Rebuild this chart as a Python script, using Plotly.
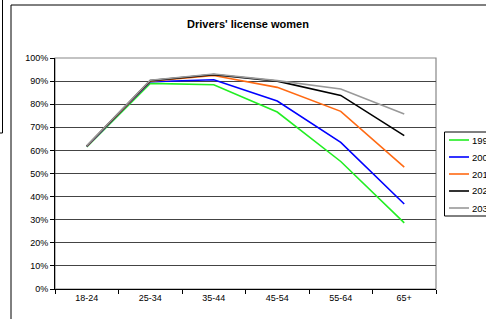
import plotly.graph_objects as go

categories = ["18-24", "25-34", "35-44", "45-54", "55-64", "65+"]
series_names = ["1990", "2000", "2010", "2020", "2030"]
v1990 = [0.615, 0.890, 0.884, 0.766, 0.552, 0.286]
v2000 = [0.617, 0.897, 0.906, 0.814, 0.635, 0.368]
v2010 = [0.618, 0.900, 0.924, 0.873, 0.769, 0.528]
v2020 = [0.619, 0.902, 0.928, 0.900, 0.838, 0.664]
v2030 = [0.620, 0.904, 0.931, 0.902, 0.866, 0.758]
colors = ["#22ee22", "#0000ff", "#ff6a13", "#000000", "#999999"]

fig = go.Figure()
for name, vals, col in zip(series_names, [v1990, v2000, v2010, v2020, v2030], colors):
    fig.add_trace(go.Scatter(x=categories, y=vals, name=name, mode="lines",
                             line=dict(color=col, width=1.6), showlegend=False))

W, H = 486, 319
L, R, T, B = 55, 50, 58, 30
pw, ph = W - L - R, H - T - B

def px(x):
    return (x - L) / pw

def py(y):
    return (H - B - y) / ph

font = "Liberation Sans, Arial, sans-serif"

shapes = [
    # outer chart frame
    dict(type="rect", xref="paper", yref="paper", x0=px(11), x1=px(520), y0=py(5), y1=py(340),
         line=dict(color="#000000", width=1), fillcolor="rgba(0,0,0,0)", layer="below"),
    # plot area border
    dict(type="rect", xref="paper", yref="paper", x0=0, x1=1, y0=0, y1=1,
         line=dict(color="#888888", width=1.2), fillcolor="rgba(0,0,0,0)", layer="below"),
    # partial neighbouring frame at left
    dict(type="line", xref="paper", yref="paper", x0=px(2.5), x1=px(2.5), y0=py(133), y1=py(-2),
         line=dict(color="#000000", width=1)),
    dict(type="line", xref="paper", yref="paper", x0=px(-3), x1=px(2.5), y0=py(133), y1=py(133),
         line=dict(color="#000000", width=1)),
    # legend box
    dict(type="rect", xref="paper", yref="paper", x0=px(444.5), x1=px(520), y0=py(132), y1=py(216),
         line=dict(color="#000000", width=1), fillcolor="white", layer="below"),
]
annotations = []
for i, (name, col) in enumerate(zip(series_names, colors)):
    yy = 140 + i * 17
    shapes.append(dict(type="line", xref="paper", yref="paper", x0=px(449), x1=px(469),
                       y0=py(yy), y1=py(yy), line=dict(color=col, width=1.6)))
    annotations.append(dict(text=name, xref="paper", yref="paper", x=px(469.5), y=py(yy),
                            xanchor="left", yanchor="middle", showarrow=False,
                            font=dict(family=font, size=9.5, color="#000000")))

fig.update_layout(
    width=W, height=H,
    margin=dict(l=L, r=R, t=T, b=B, autoexpand=False),
    paper_bgcolor="white", plot_bgcolor="white",
    font=dict(family=font, size=9, color="#000000"),
    title=dict(text="<b>Drivers' license women</b>", x=248 / W, xref="container", xanchor="center",
               y=1 - 24 / H, yref="container", yanchor="middle",
               font=dict(family=font, size=11, color="#000000")),
    showlegend=False,
    shapes=shapes,
    annotations=annotations,
)
fig.update_xaxes(type="category", showgrid=False, showline=True, linecolor="#000000", linewidth=1,
                 ticks="outside", tickson="boundaries", ticklen=4, tickcolor="#000000",
                 tickfont=dict(family=font, size=9), range=[-0.5, 5.5])
fig.update_yaxes(range=[0, 1], dtick=0.1, tickformat=".0%", showgrid=True, gridcolor="#444444",
                 gridwidth=1, showline=True, linecolor="#000000", linewidth=1,
                 ticks="outside", ticklen=4, tickcolor="#000000", zeroline=False,
                 tickfont=dict(family=font, size=9))

fig.write_html("out.html", config={"displayModeBar": False},
               post_script="document.body.style.margin='0';document.body.style.overflow='hidden';")
